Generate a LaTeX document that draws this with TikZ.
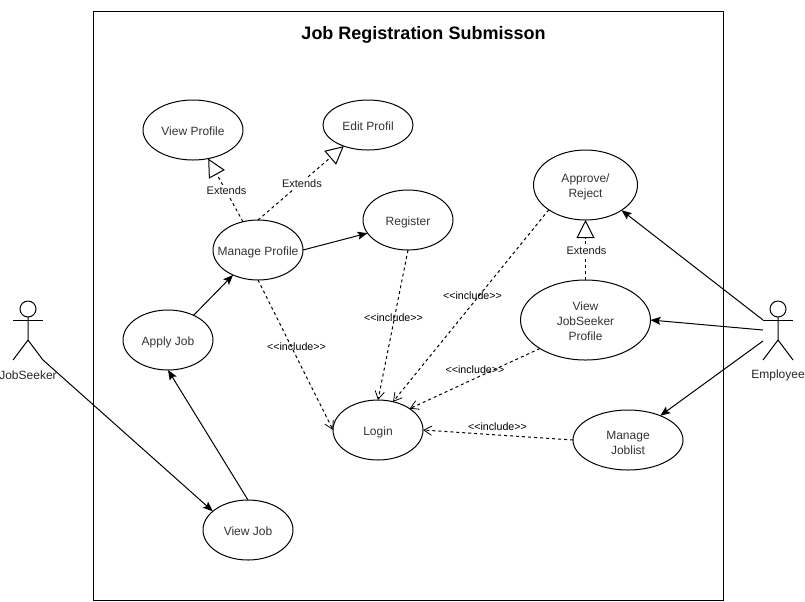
\documentclass[tikz,border=0pt]{standalone}
\usepackage{fontspec}
\setmainfont{Liberation Sans}
\usetikzlibrary{shapes.geometric,arrows.meta}
\newcommand{\uctext}[2][-4.1pt]{\makebox[0pt]{\raisebox{#1}[0pt][0pt]{\begin{tabular}{@{}c@{}}#2\end{tabular}}}}
\newcommand{\incltext}{<\kern0pt<include>\kern0pt>}
\tikzset{
  uc/.style={draw=black,line width=.75pt,ellipse,inner sep=0pt,outer sep=0pt,font=\fontsize{9}{11.25}\selectfont,text=black!80},
  act/.style={line width=.75pt,draw=black},
  assoc/.style={line width=.75pt,draw=black,-{Stealth[length=7.5pt,width=6pt,inset=1.5pt]}},
  incl/.style={line width=.75pt,draw=black,dash pattern=on 2.25pt off 2.25pt,-{Straight Barb[length=6pt,width=7pt,line width=.6pt]}},
  ext/.style={line width=.75pt,draw=black,dash pattern=on 2.25pt off 2.25pt,-{Triangle[open,length=13.5pt,width=13.5pt,fill=white,line width=.75pt]}},
  lbl/.style={font=\fontsize{8}{9}\selectfont,inner sep=0pt,text=black},
  extlbl/.style={font=\fontsize{8.25}{10}\selectfont,inner sep=1pt,fill=white,text=black!90,xshift=.75pt,yshift=-.5pt},
  actlbl/.style={font=\fontsize{9}{10.8}\selectfont,inner sep=0pt,text=black!85},
}
\begin{document}
\begin{tikzpicture}[x=.75pt,y=-.75pt]
\useasboundingbox (0,0) rectangle (805,601);
\node[draw=black,line width=.75pt,minimum width=472.5pt,minimum height=441.75pt,inner sep=0pt,outer sep=0pt] (frame) at (408,305.5) {};
\node[font=\fontsize{13.5}{16}\selectfont\bfseries,inner sep=0pt] (title) at (423.5,34.5) {Job Registration Submisson};

\node[uc,minimum width=75pt,minimum height=45pt] (vp) at (193,130) {\uctext{View Profile}};
\node[uc,minimum width=67.5pt,minimum height=37.5pt] (ep) at (368,125) {\uctext{Edit Profil}};
\node[uc,minimum width=78pt,minimum height=52.5pt] (ar) at (585.5,185) {\uctext{Approve/\\Reject}};
\node[uc,minimum width=67.5pt,minimum height=45pt] (reg) at (408,220) {\uctext{Register}};
\node[uc,minimum width=67.5pt,minimum height=45pt] (mp) at (258,250) {\uctext{Manage Profile}};
\node[uc,minimum width=67.5pt,minimum height=45pt] (aj) at (168,340) {\uctext{Apply Job}};
\node[uc,minimum width=97.5pt,minimum height=60pt] (vjs) at (585.5,320) {\uctext{View\\JobSeeker\\Profile}};
\node[uc,minimum width=67.5pt,minimum height=45pt] (login) at (378,430) {\uctext{Login}};
\node[uc,minimum width=82.5pt,minimum height=45pt] (mj) at (628,440) {\uctext[-5.6pt]{Manage\\Joblist}};
\node[uc,minimum width=67.5pt,minimum height=45pt] (vj) at (248,530) {\uctext{View Job}};

% actors
\node[act,circle,minimum size=12pt,inner sep=0pt,outer sep=0pt] (jshead) at (28,309) {};
\coordinate (jsneck) at (28,340);
\coordinate (jship) at (43,360);
\draw[act] (jshead.south) -- (jsneck) -- (13,360);
\draw[act] (jsneck) -- (jship);
\draw[act] (13,320) -- (43,320);
\node[actlbl] (jsl) at (28,375) {JobSeeker};

\node[act,circle,minimum size=12pt,inner sep=0pt,outer sep=0pt] (emhead) at (778,309) {};
\coordinate (emneck) at (778,340);
\coordinate (emarm) at (763,320);
\coordinate (emmid) at (763,330);
\coordinate (emlow) at (763,341);
\draw[act] (emhead.south) -- (emneck) -- (763,360);
\draw[act] (emneck) -- (793,360);
\draw[act] (emarm) -- (793,320);
\node[actlbl] (eml) at (778,375) {Employee};

% associations
\draw[assoc] (jship) -- (vj.152);
\draw[assoc] (vj.north) -- (aj.south);
\draw[assoc] (aj.44) -- (mp.225);
\draw[assoc] (mp.east) -- (reg.198);
\draw[assoc] (emarm) -- (ar.-35);
\draw[assoc] (emmid) -- (vjs.east);
\draw[assoc] (emlow) -- (mj.37);

% extends
\draw[ext] (mp.118) -- node[extlbl,pos=.5] (e1) {Extends} (vp.-62);
\draw[ext] (mp.north) -- node[extlbl,pos=.5] (e2) {Extends} (ep.221);
\draw[ext] (vjs.north) -- node[extlbl,pos=.5] (e3) {Extends} (ar.south);

% includes
\draw[incl] (mp.south) -- (login.west);
\draw[incl] (reg.south) -- (login.north);
\draw[incl] (ar.214) -- (login.62);
\draw[incl] (vjs.212) -- (login.34);
\draw[incl] (mj.west) -- (login.east);
\node[lbl] (i1) at (296.5,346.5) {\incltext};
\node[lbl] (i2) at (393.5,317.5) {\incltext};
\node[lbl] (i3) at (472.5,295.5) {\incltext};
\node[lbl] (i4) at (475,369.5) {\incltext};
\node[lbl] (i5) at (497.5,426.5) {\incltext};
\end{tikzpicture}
\end{document}
